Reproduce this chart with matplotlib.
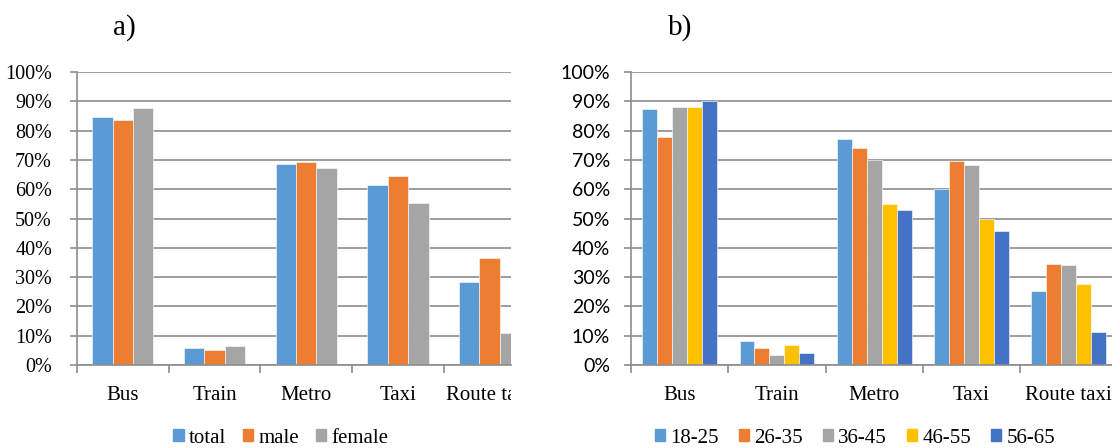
import matplotlib
matplotlib.use("Agg")
import matplotlib.pyplot as plt
import numpy as np
from matplotlib.transforms import Bbox
from matplotlib.patches import Patch

# Data
modes = ["Bus", "Train", "Metro", "Taxi", "Route taxi"]

gender_labels = ["total", "male", "female"]
total = [84.7, 5.7, 68.6, 61.5, 28.3]
male = [83.5, 5.1, 69.2, 64.6, 36.5]
female = [87.6, 6.6, 67.3, 55.2, 10.8]

age_labels = ["18-25", "26-35", "36-45", "46-55", "56-65"]
age_18_25 = [87.4, 8.1, 77.3, 60.1, 25.4]
age_26_35 = [77.7, 5.9, 74.1, 69.6, 34.4]
age_36_45 = [88.0, 3.3, 70.1, 68.3, 34.1]
age_46_55 = [87.9, 6.8, 55.1, 49.9, 27.6]
age_56_65 = [90.0, 4.1, 52.8, 45.7, 11.3]

yticks = [0, 10, 20, 30, 40, 50, 60, 70, 80, 90, 100]

colors = ["#5B9BD5", "#ED7D31", "#A5A5A5", "#FFC000", "#4472C4"]
grid_col = "#8C8C8C"
serif = ["Liberation Serif", "DejaVu Serif"]
sans = ["Lato", "DejaVu Sans"]

W, H = 1112, 448
fig = plt.figure(figsize=(W / 100, H / 100), dpi=100)


def px_axes(left, right, top, bottom):
    return fig.add_axes([left / W, 1 - bottom / H, (right - left) / W, (bottom - top) / H])


def style_axes(ax, ytick_font, ytick_size, ypad):
    ax.set_ylim(0, 100)
    ax.set_yticks(yticks)
    ax.set_yticklabels([f"{v}%" for v in yticks], family=ytick_font, fontsize=ytick_size)
    ax.yaxis.grid(True, color=grid_col, linewidth=1.2)
    ax.set_axisbelow(True)
    for s in ["top", "right"]:
        ax.spines[s].set_visible(False)
    for s in ["left", "bottom"]:
        ax.spines[s].set_color(grid_col)
        ax.spines[s].set_linewidth(1.2)
    ax.tick_params(axis="y", length=5, color=grid_col, width=1.2, pad=ypad)
    # category boundary ticks
    ax.set_xticks(np.arange(len(modes) + 1) - 0.5, minor=False)
    ax.set_xticklabels([])
    ax.tick_params(axis="x", which="major", length=6, color=grid_col, width=1.2, direction="out")
    ax.set_xticks(np.arange(len(modes)), minor=True)
    ax.set_xticklabels(modes, minor=True, family=serif, fontsize=15)
    ax.tick_params(axis="x", which="minor", length=0, pad=15)


def grouped_bars(ax, series, labels):
    n = len(series)
    width = 1 / (n + 1.5)
    x = np.arange(len(modes))
    for i, (vals, lab) in enumerate(zip(series, labels)):
        offs = (i - (n - 1) / 2) * width
        ax.bar(x + offs, vals, width=width, color=colors[i], label=lab,
               edgecolor="white", linewidth=0.4)


# Panel a
cat_a = 91.7
ax_a = px_axes(77, 511, 72, 365)
grouped_bars(ax_a, [total, male, female], gender_labels)
style_axes(ax_a, serif, 14.5, 13)
ax_a.set_xlim(-0.5, -0.5 + (511 - 77) / cat_a)
clip = Bbox([[0, 0], [511, H]])
for lab in ax_a.get_xticklabels(minor=True):
    lab.set_clip_box(clip)
    lab.set_clip_on(True)

# Panel b
cat_b = 97.3
ax_b = px_axes(631, 631 + 5 * cat_b, 72, 365)
grouped_bars(ax_b, [age_18_25, age_26_35, age_36_45, age_46_55, age_56_65], age_labels)
style_axes(ax_b, sans, 14, 10)
ax_b.set_xlim(-0.5, 4.5)

# Panel letters
fig.text(124 / W, 1 - 28 / H, "a)", family=serif, fontsize=21, ha="center", va="center")
fig.text(680 / W, 1 - 28 / H, "b)", family=serif, fontsize=21, ha="center", va="center")

# Legends
leg_kw = dict(loc="center", ncol=5, frameon=False, prop={"family": serif, "size": 15},
              handlelength=0.5, handleheight=0.5, handletextpad=0.25,
              borderaxespad=0)
h_a = [Patch(color=colors[i]) for i in range(3)]
fig.legend(h_a, gender_labels, bbox_to_anchor=(281 / W, 1 - 438 / H), columnspacing=0.8, **leg_kw)
h_b = [Patch(color=colors[i]) for i in range(5)]
fig.legend(h_b, age_labels, bbox_to_anchor=(855 / W, 1 - 438 / H), columnspacing=0.95, **leg_kw)

fig.savefig("out.png", dpi=100)
